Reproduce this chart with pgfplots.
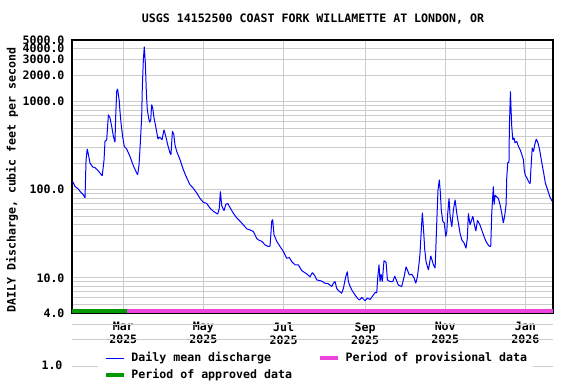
\documentclass[border=0pt]{standalone}
\usepackage{fontspec}
\setmainfont{DejaVu Sans Mono}
\usepackage{pgfplots}
\pgfplotsset{compat=1.18}
\definecolor{usgsblue}{RGB}{0,0,255}
\definecolor{apgreen}{RGB}{0,153,0}
\definecolor{provpink}{RGB}{238,68,221}
\definecolor{gridgray}{RGB}{204,204,204}
\newcommand{\ff}{\fontsize{11.6bp}{13bp}\selectfont\bfseries}
\begin{document}
\begin{tikzpicture}
\path[use as bounding box] (-72bp,-71bp) rectangle (504bp,313bp);
\begin{axis}[
  at={(0,0)}, anchor=south west,
  scale only axis, width=481bp, height=273bp,
  xmin=0, xmax=366, ymode=log, ymin=4, ymax=5000,
  clip=false,
  axis line style={black, line width=1.4bp},
  major tick length=0pt, minor tick length=0pt,
  xtick={39,100,161,223,284,345},
  xticklabels={{Mar\\2025},{May\\2025},{Jul\\2025},{Sep\\2025},{Nov\\2025},{Jan\\2026}},
  xticklabel style={font=\ff, align=center, yshift=-6bp},
  ytick={4,10,100,1000,2000,3000,4000,5000},
  yticklabels={4.0,10.0,100.0,1000.0,2000.0,3000.0,4000.0,5000.0},
  minor ytick={5,6,7,8,9,20,30,40,50,60,70,80,90,200,300,400,500,600,700,800,900},
  yticklabel style={font=\ff, xshift=-4bp},
  /pgf/number format/assume math mode=true,
  grid=both,
  major grid style={gridgray, line width=1bp},
  minor grid style={gridgray, line width=1bp},
  legend columns=2,
  legend cell align=left,
  legend image code/.code={\draw[#1] (0bp,0bp) -- (18bp,0bp);},
  legend style={
    at={(0.0535,-0.1960)}, anchor=west,
    draw=none, fill=white, inner sep=6bp,
    font=\ff,
    nodes={inner sep=0pt, text height=9bp, text depth=3bp},
    row sep=5bp,
    /tikz/every odd column/.append style={column sep=6bp},
    /tikz/every even column/.append style={column sep=26bp},
  },
]
% gridlines of the log scale that run on below the frame
\draw[gridgray, line width=1bp] (axis cs:0,3) -- (axis cs:366,3);
\draw[gridgray, line width=1bp] (axis cs:0,2) -- (axis cs:366,2);
\draw[gridgray, line width=1bp] (axis cs:0,1) -- (axis cs:366,1);

\addplot[usgsblue, line width=1bp, line join=bevel] coordinates {
(0.5,124) (2.3,109) (4.8,102) (6.1,96) (8.6,88) (9.9,81) (10.7,219) (11.6,290)
(12.4,255) (13.7,201) (15.8,181) (17.5,178) (19,170) (21.3,155) (23,144) (24.4,219)
(25.1,354) (26.4,370) (27.7,711) (28.9,653) (30.2,525) (31.5,404) (32.7,345) (33.2,653)
(34,1309) (34.7,1394) (36,1006) (36.5,776) (37.3,573) (38.5,404) (39.8,310) (41.6,290)
(44.1,239) (46.7,187) (49.2,155) (50,148) (51,192) (51.7,285) (53,653) (53.5,1432)
(54.3,3000) (55,4190) (55.8,2750) (56.6,1256) (57.3,811) (58.3,653) (59.1,582) (59.9,620)
(60.6,925) (61.4,850) (62.4,653) (63.9,504) (65.4,377) (66.5,395) (67.5,385) (68.5,370)
(70,481) (71.5,395) (73,316) (74.6,261) (75.3,250) (76.4,460) (77.4,430) (78.4,320)
(79.7,272) (82.2,219) (84.7,169) (87.3,136) (89.8,114) (92.3,104) (94.9,92) (97.4,80)
(99.9,72) (102.5,70) (105,62) (107.5,57) (110.9,53) (112.1,62) (112.9,96) (113.9,66)
(115.7,58) (117,68) (118.5,70) (120.2,63) (122.8,54) (125.3,48) (127.9,44) (130.4,40)
(133,36) (135.5,35) (138,33.6) (140.6,28) (141.8,27) (144.4,26) (146.9,23.7) (149.4,22.7)
(150.7,23) (152,44) (152.7,46) (153.7,31) (155.8,26) (158.3,22.7) (160.8,20) (163.4,16.7)
(165.4,17) (167.2,15.3) (169.7,14.1) (172.2,14.1) (174.8,12.1) (178.6,11.1) (181.1,10.3) (182.9,11.5)
(184.9,10.5) (186.2,9.5) (190,9.2) (192.5,8.7) (195,8.6) (197.6,8.0) (198.9,8.7) (200.2,9.1)
(201.4,7.6) (202.7,7.2) (205.2,6.7) (206.5,7.6) (208.3,10.3) (209.5,11.8) (210.3,9.1) (211.6,8.0)
(212.9,7.3) (215.4,6.4) (217.1,5.9) (218.7,5.6) (220.5,6.0) (223,5.5) (224.7,5.9) (226.8,5.7)
(229.3,6.4) (230.6,6.8) (231.9,6.8) (232.6,10) (233.6,14.1) (234.4,9.1) (235.2,11) (236.1,9.1)
(237.4,15.7) (239,15) (240,9.5) (242,9.1) (244.1,9.1) (245.6,10.5) (248.3,8.3) (250.9,8.0)
(252.7,10.3) (254.2,13.4) (256.7,10.8) (258.5,11) (260.3,10) (261.6,8.7) (262.8,10.3) (264.1,14.7)
(264.8,19) (266.1,42) (266.6,55) (267.4,37) (268.4,21) (269.4,15.3) (271.2,12.3) (273,17.8)
(275,14.1) (276.3,12.9) (277,25) (277.8,54) (278.5,100) (279.5,130) (280.3,92) (281,59)
(282.1,44) (283.3,42) (284.4,29.5) (285.2,33.6) (285.9,54) (286.9,80) (287.7,50) (289,38)
(290.2,59) (291.5,77) (292.8,54) (294,42) (295.3,32) (296.6,27) (298.3,25) (299.8,21.7)
(300.8,28) (301.6,54) (302.9,40) (304.2,46) (305,50) (306.2,40) (307.3,34) (308.5,45)
(310.4,40) (311.8,35) (313,31) (314.3,27.5) (315.6,25) (317.4,23) (318.6,22.7) (318.9,31)
(319.4,54) (320.2,87) (320.6,109) (321.2,68) (321.9,87) (323.2,83) (324.4,80) (325.7,68)
(327,54) (328.2,42) (329.2,50) (330.3,68) (330.8,136) (331.6,204) (332.5,204) (332.8,504)
(333.6,1309) (334.1,811) (334.6,525) (335.4,370) (336.4,387) (337.1,340) (338.4,354) (339.7,310)
(341,285) (342.3,250) (343.5,219) (344.1,169) (344.8,148) (346.1,136) (347.4,124) (348.6,117)
(349.2,172) (350.2,298) (351.2,272) (352,320) (353.3,377) (354.6,340) (355.8,285) (357.1,219)
(358.9,155) (360.2,119) (361.9,100) (363.5,84) (365.3,74)
};
\addlegendentry{Daily mean discharge}
\addplot[provpink, line width=3.5bp] coordinates {(41.9,4.22) (366,4.22)};
\addlegendentry{Period of provisional data}
\addplot[apgreen, line width=3.5bp] coordinates {(0,4.22) (41.9,4.22)};
\addlegendentry{Period of approved data}
\end{axis}
\node[font=\ff] at (241bp,294bp) {USGS 14152500 COAST FORK WILLAMETTE AT LONDON, OR};
\node[font=\ff, rotate=90] at (-60bp,133bp) {DAILY Discharge, cubic feet per second};
\node[font=\ff, anchor=east] at (-6bp,-52bp) {1.0};
\end{tikzpicture}
\end{document}
